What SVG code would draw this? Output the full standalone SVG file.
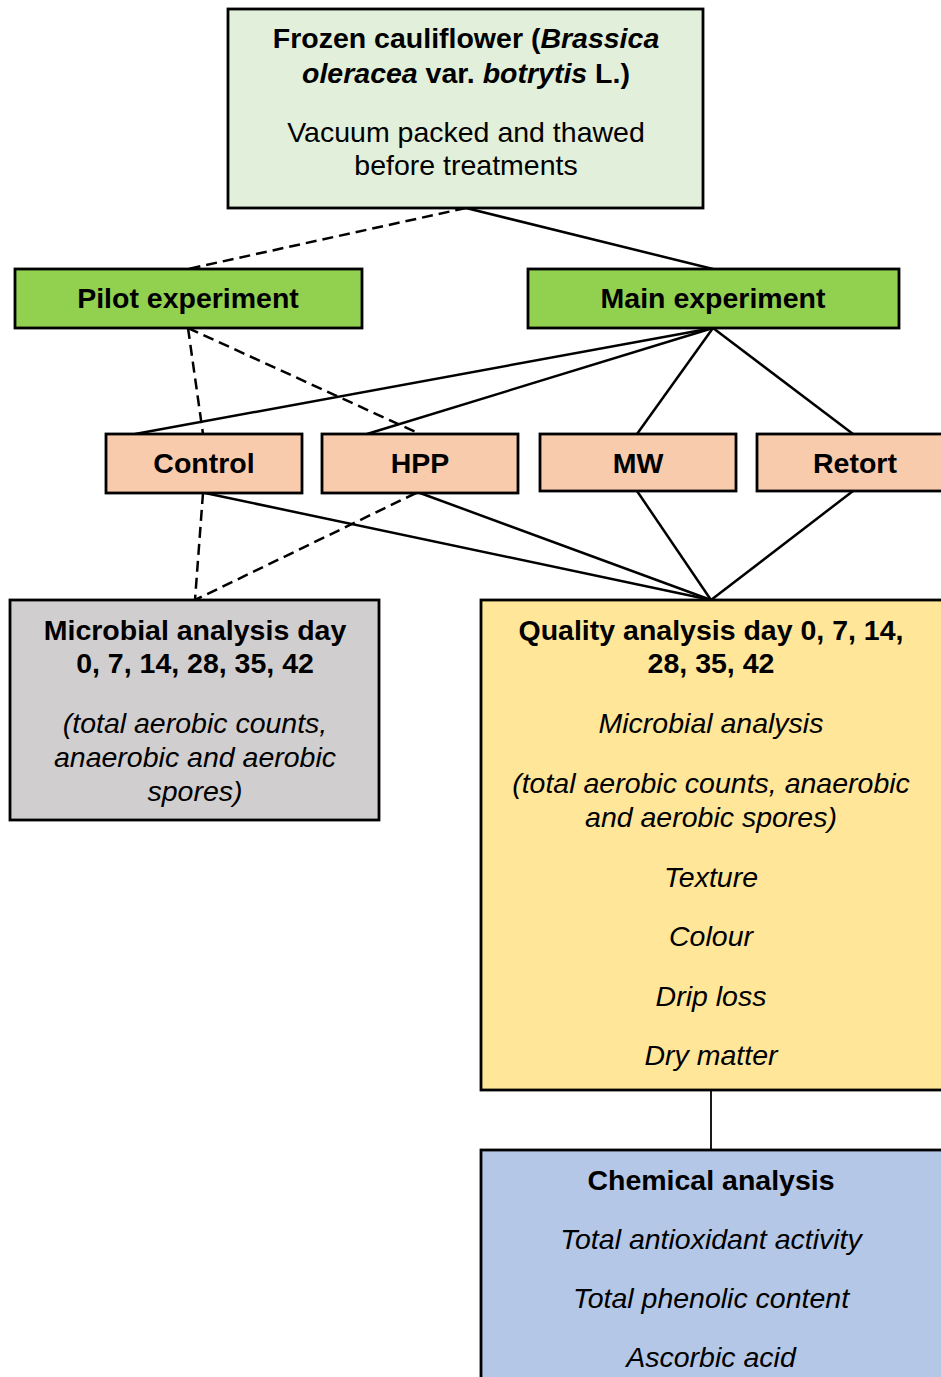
<svg xmlns="http://www.w3.org/2000/svg" width="941" height="1377" viewBox="0 0 941 1377">
<style>
.box{stroke:#000;stroke-width:2.8}
.t{font-family:"Liberation Sans",Arial,sans-serif;font-size:28.5px;text-anchor:middle;fill:#000}
.b{font-weight:bold}
.i{font-style:italic}
.ln{stroke:#000;stroke-width:2.5;fill:none}
.d{stroke-dasharray:11 6}
</style>
<rect width="941" height="1377" fill="#fff"/>
<g id="connectors">
<line class="ln d" x1="466" y1="208" x2="188" y2="269"/>
<line class="ln" x1="466" y1="208" x2="713" y2="269"/>
<line class="ln d" x1="188" y1="328" x2="203" y2="434"/>
<line class="ln d" x1="188" y1="328" x2="420" y2="434"/>
<line class="ln" x1="713" y1="328" x2="135" y2="434"/>
<line class="ln" x1="713" y1="328" x2="367" y2="434"/>
<line class="ln" x1="713" y1="328" x2="637" y2="434"/>
<line class="ln" x1="713" y1="328" x2="853" y2="434"/>
<line class="ln d" x1="203" y1="493" x2="195" y2="600"/>
<line class="ln d" x1="416" y1="493" x2="195" y2="600"/>
<line class="ln" x1="205" y1="493" x2="711" y2="600"/>
<line class="ln" x1="420" y1="493" x2="711" y2="600"/>
<line class="ln" x1="637" y1="491" x2="711" y2="600"/>
<line class="ln" x1="853" y1="491" x2="711" y2="600"/>
<line class="ln" style="stroke-width:1.8" x1="711" y1="1090" x2="711" y2="1150"/>
</g>
<g id="source">
<rect class="box" x="228" y="9" width="475" height="199" fill="#e2efda"/>
<text class="t b" x="466" y="48">Frozen cauliflower (<tspan class="i">Brassica</tspan></text>
<text class="t b" x="466" y="83"><tspan class="i">oleracea</tspan> var. <tspan class="i">botrytis</tspan> L.)</text>
<text class="t" x="466" y="142">Vacuum packed and thawed</text>
<text class="t" x="466" y="175">before treatments</text>
</g>
<g id="pilot">
<rect class="box" x="15" y="269" width="347" height="59" fill="#92d050"/>
<text class="t b" x="188" y="308">Pilot experiment</text>
</g>
<g id="main">
<rect class="box" x="528" y="269" width="371" height="59" fill="#92d050"/>
<text class="t b" x="713" y="308">Main experiment</text>
</g>
<g id="control">
<rect class="box" x="106" y="434" width="196" height="59" fill="#f8cbad"/>
<text class="t b" x="204" y="473">Control</text>
</g>
<g id="hpp">
<rect class="box" x="322" y="434" width="196" height="59" fill="#f8cbad"/>
<text class="t b" x="420" y="473">HPP</text>
</g>
<g id="mw">
<rect class="box" x="540" y="434" width="196" height="57" fill="#f8cbad"/>
<text class="t b" x="638" y="473">MW</text>
</g>
<g id="retort">
<rect class="box" x="757" y="434" width="196" height="57" fill="#f8cbad"/>
<text class="t b" x="855" y="473">Retort</text>
</g>
<g id="microbial">
<rect class="box" x="10" y="600" width="369" height="220" fill="#d0cece"/>
<text class="t b" x="195" y="640">Microbial analysis day</text>
<text class="t b" x="195" y="673">0, 7, 14, 28, 35, 42</text>
<text class="t i" x="195" y="733">(total aerobic counts,</text>
<text class="t i" x="195" y="767">anaerobic and aerobic</text>
<text class="t i" x="195" y="801">spores)</text>
</g>
<g id="quality">
<rect class="box" x="481" y="600" width="470" height="490" fill="#ffe699"/>
<text class="t b" x="711" y="640">Quality analysis day 0, 7, 14,</text>
<text class="t b" x="711" y="673">28, 35, 42</text>
<text class="t i" x="711" y="733">Microbial analysis</text>
<text class="t i" x="711" y="793">(total aerobic counts, anaerobic</text>
<text class="t i" x="711" y="827">and aerobic spores)</text>
<text class="t i" x="711" y="887">Texture</text>
<text class="t i" x="711" y="946">Colour</text>
<text class="t i" x="711" y="1006">Drip loss</text>
<text class="t i" x="711" y="1065">Dry matter</text>
</g>
<g id="chemical">
<rect class="box" x="481" y="1150" width="470" height="240" fill="#b4c7e7"/>
<text class="t b" x="711" y="1190">Chemical analysis</text>
<text class="t i" x="711" y="1249">Total antioxidant activity</text>
<text class="t i" x="711" y="1308">Total phenolic content</text>
<text class="t i" x="711" y="1367">Ascorbic acid</text>
</g>
</svg>
